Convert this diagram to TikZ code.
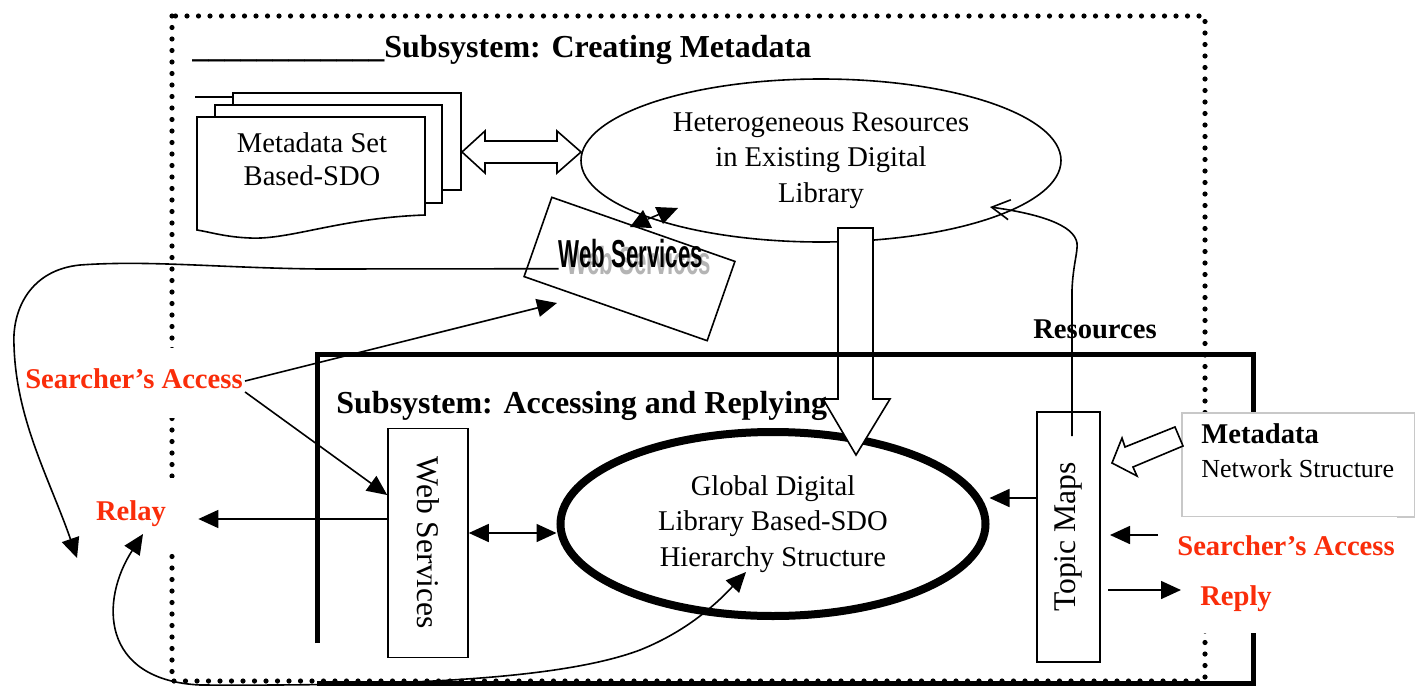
\documentclass[tikz,border=0pt]{standalone}
\usepackage{fontspec}
\usepackage{graphicx}
\setmainfont{Liberation Serif}
\newfontfamily\wsfont{Liberation Sans}
\usetikzlibrary{arrows.meta,shapes.geometric}
\definecolor{lred}{RGB}{250,45,10}
\definecolor{boxgray}{RGB}{200,200,200}
\definecolor{shadowgray}{RGB}{180,180,180}
\tikzset{
  conn/.style={line width=0.8pt},
  arr/.style={-{Triangle[length=10pt,width=9pt]}},
  darr/.style={{Triangle[length=10pt,width=9pt]}-{Triangle[length=10pt,width=9pt]}},
  barb/.style={-{Straight Barb[length=9pt,width=10pt]}},
  dotline/.style={line width=2.6pt,line cap=round,dash pattern=on 0pt off 5.75pt},
  heavy/.style={line width=2.5pt},
  boxed/.style={draw,line width=0.8pt},
  body/.style={font=\fontsize{14.3}{17.75}\selectfont,align=center},
  rotlab/.style={font=\fontsize{15.8}{18}\selectfont},
  ttl/.style={font=\bfseries\fontsize{16}{19}\selectfont},
  redlab/.style={font=\bfseries\fontsize{14.3}{17}\selectfont,text=lred,fill=white,inner xsep=1pt},
  hollow/.style={draw,fill=white,line width=0.8pt,line join=miter},
  wsstyle/.style={font=\wsfont\bfseries\fontsize{19.5}{20}\selectfont},
}
\begin{document}
\begin{tikzpicture}[x=0.5pt,y=-0.5pt,every node/.style={inner sep=0pt}]
\useasboundingbox (0,0) rectangle (1415,686);
% outer dotted frame
\draw[dotline] (172,16) rectangle (1205,681);
% document stack
\draw[boxed,fill=white] (233,93) rectangle (461,190);
\draw[boxed,fill=white] (215,105) rectangle (442,203);
\draw[boxed,fill=white] (197,117) -- (425,117) -- (425,215) .. controls (340,218) and (290,240) .. (250,238) .. controls (225,237) and (210,232) .. (197,230) -- cycle;
\draw[conn] (195,97) -- (233,97);
\node[body,font=\fontsize{14.3}{16.5}\selectfont] (stk) at (312,159) {Metadata Set\\Based-SDO};
% ellipses
\node[ellipse,boxed,minimum width=240pt,minimum height=81.5pt,body] (het) at (821,160.5) {Heterogeneous Resources\\in Existing Digital\\Library};
\node[ellipse,draw,line width=4pt,minimum width=212.5pt,minimum height=92pt,body] (glob) at (773,524) {Global Digital\\Library Based-SDO\\Hierarchy Structure};
% hollow arrows
\draw[hollow] (462,152) -- (485,131) -- (485,141) -- (557,141) -- (557,131) -- (581,152) -- (557,173) -- (557,163) -- (485,163) -- (485,173) -- cycle;
\draw[hollow] (838,228) -- (873,228) -- (873,399) -- (890,399) -- (856,455) -- (823,399) -- (838,399) -- cycle;
% heavy frame
\draw[heavy] (317,643) -- (317,354) -- (1253,354) -- (1253,683) -- (317,683);
% boxes
\node[boxed,rotate=-90,minimum width=114.5pt,minimum height=40pt,rotlab] (wsv) at (428,543) {Web Services};
\node[boxed,rotate=90,minimum width=125pt,minimum height=31.5pt,rotlab] (topic) at (1068.5,537) {Topic Maps};
\node[boxed,rotate=-19.3,minimum width=97pt,minimum height=42pt] (wst) at (629.5,269) {};
\node[wsstyle,text=shadowgray] (wsshadow) at (639,261) {\scalebox{0.57}[1]{Web Services}};
\node[wsstyle] (wstxt) at (631,254) {\scalebox{0.57}[1]{Web Services}};
% metadata box
\node[draw=boxgray,fill=white,line width=0.8pt,minimum width=116.5pt,minimum height=52pt,anchor=north west] (meta) at (1181,412) {};
\node[anchor=base west,font=\bfseries\fontsize{14.3}{17}\selectfont] (metat) at (1201,443) {Metadata};
\node[anchor=base west,font=\fontsize{13}{15}\selectfont] (nets) at (1201,477) {Network Structure};
\draw[hollow] (1112,463) -- (1122,438) -- (1125,447) -- (1175,427) -- (1183,446) -- (1133,467) -- (1137,476) -- cycle;
% titles and labels
\node[ttl,anchor=base west] (t1) at (192,57) {\_\_\_\_\_\_\_\_\_\_\_\_Subsystem: Creating Metadata};
\node[ttl,anchor=base west] (t2) at (336,413) {Subsystem: Accessing and Replying};
\node[font=\bfseries\fontsize{14.3}{17}\selectfont,anchor=base] (res) at (1095,338) {Resources};
\node[redlab,anchor=base,inner ysep=10.3pt,text depth=4.7pt] (sal) at (134,388) {Searcher’s Access};
\node[redlab,inner xsep=16pt,inner ysep=11.3pt] (relay) at (131,513.5) {Relay};
\node[redlab,inner ysep=9.6pt] (sar) at (1286,546) {Searcher’s Access};
\node[redlab,inner ysep=10.6pt] (reply) at (1236,598.4) {Reply};
% connector end points
\coordinate (wstIn) at (557,303);
\coordinate (sarOut) at (1158,535);
\coordinate (topicIn) at (1110,535);
\coordinate (topicOut) at (1108,590);
\coordinate (replyIn) at (1181,590);
\coordinate (resStart) at (1072,436);
\coordinate (hetIn) at (990,207);
\coordinate (relayIn) at (143,534);
\coordinate (globIn) at (746,572);
\coordinate (leftEnd) at (77,558);
% connectors
\draw[conn,arr] (sal.east |- 0,381) -- (wstIn);
\draw[conn,arr] (sal.east |- 0,392) -- (wsv.south |- 0,495);
\draw[conn,arr] (wsv.south |- 0,519) -- (relay.east |- 0,519);
\draw[conn,darr] (wsv.north |- 0,533) -- (glob.west |- 0,533);
\draw[conn,arr] (topic.north |- 0,498) -- (glob.east |- 0,498);
\draw[conn,arr] (sarOut) -- (topicIn);
\draw[conn,arr] (topicOut) -- (replyIn);
\draw[conn,barb] (resStart) -- (1072,290) .. controls (1073,265) and (1078,252) .. (1077,243) .. controls (1074,225) and (1040,214) .. (hetIn);
\draw[conn,arr] (wstxt.south west) -- (320,269) .. controls (220,268) and (150,260) .. (80,265) .. controls (30,270) and (12,310) .. (14,345) .. controls (16,420) and (50,480) .. (leftEnd);
\draw[conn,darr] (relayIn) .. controls (100,600) and (100,680) .. (200,685) .. controls (400,686) and (560,680) .. (640,650) .. controls (690,630) and (720,600) .. (globIn);
% short double arrow between tilted Web Services and the resources ellipse
\draw[conn] (648,219) -- (660,214);
\fill (643,210) -- (630,227) -- (652,228) -- cycle;
\fill (655,207) -- (678,208) -- (663,224) -- cycle;
\end{tikzpicture}
\end{document}
